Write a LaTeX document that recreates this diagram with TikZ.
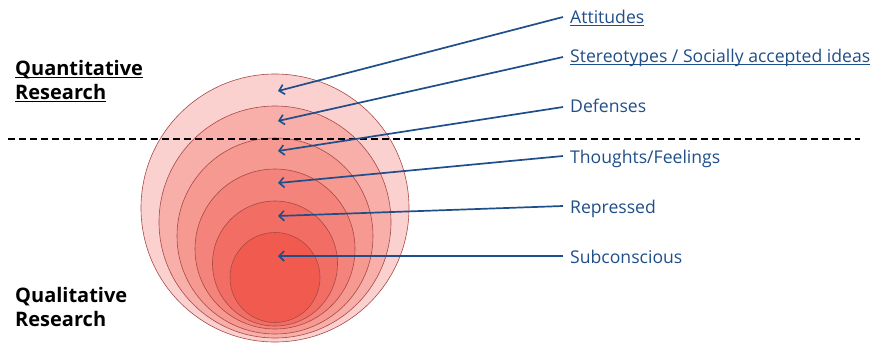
\documentclass[tikz,border=0pt]{standalone}
\usepackage{fontspec}
\setmainfont{Open Sans}
\usetikzlibrary{arrows.meta}
\definecolor{ring1}{HTML}{FBD1D0}
\definecolor{ring2}{HTML}{F8AEA9}
\definecolor{ring3}{HTML}{F69991}
\definecolor{ring4}{HTML}{F4837B}
\definecolor{ring5}{HTML}{F26E65}
\definecolor{ring6}{HTML}{F05A4F}
\definecolor{ringline}{HTML}{A84A46}
\definecolor{navy}{HTML}{1F4E8A}
\tikzset{
  ring/.style={circle, draw=ringline, line width=0.6pt, inner sep=0pt},
  lbl/.style={anchor=base west, inner sep=0pt, text=navy, font=\fontsize{17.6}{21}\selectfont},
  side/.style={anchor=base west, inner sep=0pt, text=black, font=\fontsize{20}{24}\selectfont\bfseries},
  pointer/.style={draw=navy, line width=1.7pt, -{Straight Barb[length=5pt,width=10pt,line width=1.6pt]}},
  uline/.style={line width=0.9pt, draw=navy},
  bline/.style={line width=1.3pt, draw=black},
  divider/.style={line width=1.4pt, dash pattern=on 7pt off 4pt}
}
\begin{document}
\begin{tikzpicture}[x=1pt,y=-1pt]
\useasboundingbox (0,0) rectangle (875,346);
% rings
\node[ring, fill=ring1, minimum size=268pt] (r1) at (275,208) {};
\node[ring, fill=ring2, minimum size=232pt] (r2) at (275,222) {};
\node[ring, fill=ring3, minimum size=196pt] (r3) at (275,236) {};
\node[ring, fill=ring4, minimum size=160pt] (r4) at (275,249) {};
\node[ring, fill=ring5, minimum size=125pt] (r5) at (275,263.5) {};
\node[ring, fill=ring6, minimum size=90pt] (r6) at (275,277.5) {};
% divider
\coordinate (dl) at (8,139);
\coordinate (dr) at (860,139);
\draw[divider] (dl) -- (dr);
% side labels
\node[side] (q1) at (15,75.5) {Quantitative};
\node[side] (q2) at (15,99) {Research};
\draw[bline] ([yshift=-2.2pt]q1.base west) -- ([yshift=-2.2pt]q1.base east);
\draw[bline] ([yshift=-2.2pt]q2.base west) -- ([yshift=-2.2pt]q2.base east);
\node[side] (l1) at (15,302.5) {Qualitative};
\node[side] (l2) at (15,326) {Research};
% right labels
\node[lbl] (a1) at (570,23) {Attitudes};
\node[lbl] (a2) at (570,62) {Stereotypes / Socially accepted ideas};
\node[lbl] (a3) at (570,112) {Defenses};
\node[lbl] (a4) at (570,163) {Thoughts/Feelings};
\node[lbl] (a5) at (570,213) {Repressed};
\node[lbl] (a6) at (570,263) {Subconscious};
\draw[uline] ([yshift=-2.5pt]a1.base west) -- ([yshift=-2.5pt]a1.base east);
\draw[uline] ([yshift=-2.5pt]a2.base west) -- ([yshift=-2.5pt]a2.base east);
% arrow ends
\coordinate (s1) at (563,17);
\coordinate (s2) at (563,57);
\coordinate (s3) at (563,107);
\coordinate (s4) at (563,156);
\coordinate (s5) at (563,206);
\coordinate (s6) at (563,256);
\coordinate (t1) at (278,91);
\coordinate (t2) at (278,121);
\coordinate (t3) at (278,151);
\coordinate (t4) at (278,183);
\coordinate (t5) at (278,216);
\coordinate (t6) at (278,256);
\foreach \i in {1,...,6} {\draw[pointer] (s\i) -- (t\i);}
\end{tikzpicture}
\end{document}
